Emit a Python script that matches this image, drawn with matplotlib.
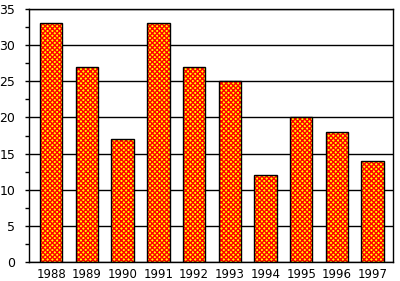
import matplotlib
matplotlib.use("Agg")
import matplotlib.pyplot as plt
from matplotlib.ticker import MultipleLocator

years = ["1988", "1989", "1990", "1991", "1992", "1993", "1994", "1995", "1996", "1997"]
values = [33, 27, 17, 33, 27, 25, 12, 20, 18, 14]

plt.rcParams['hatch.linewidth'] = 1.0

fig = plt.figure(figsize=(4.0, 2.81), dpi=100)
ax = fig.add_axes([29 / 400, 1 - 262 / 281, (393 - 29) / 400, (262 - 9) / 281])

x = range(len(years))
# patterned fill, then black outline on top
ax.bar(x, values, width=0.63, color="#ffff00", edgecolor="#ff0000",
       hatch="xxxxxxx", linewidth=0, zorder=2)
ax.bar(x, values, width=0.63, facecolor="none", edgecolor="black",
       linewidth=1, zorder=3)

ax.set_ylim(0, 35)
ax.set_xlim(-0.62, 9.57)
ax.yaxis.set_major_locator(MultipleLocator(5))
ax.yaxis.set_minor_locator(MultipleLocator(2.5))
ax.grid(axis="y", color="black", linewidth=1, zorder=1)
ax.set_axisbelow(True)

ax.set_xticks(list(x))
ax.set_xticklabels(years)
ax.tick_params(axis="x", length=0, labelsize=8.5, pad=4)
ax.tick_params(axis="y", which="major", length=3, width=1, labelsize=9, pad=7)
ax.tick_params(axis="y", which="minor", length=3, width=1)
for s in ax.spines.values():
    s.set_linewidth(1)
    s.set_color("black")

fig.savefig("out.png", dpi=100)
